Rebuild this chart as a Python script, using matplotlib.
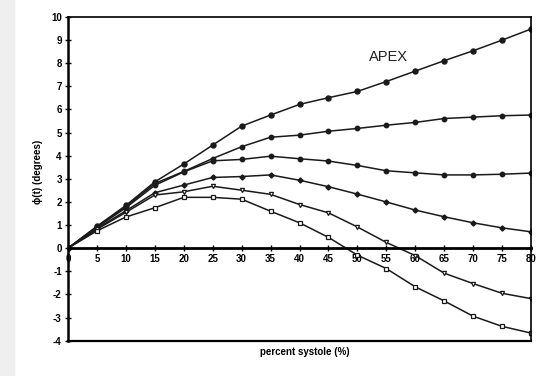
import matplotlib
matplotlib.use("Agg")
import matplotlib.pyplot as plt
from matplotlib.patches import Rectangle

plt.rcParams['font.family'] = ['Liberation Sans', 'DejaVu Sans']
plt.rcParams['axes.unicode_minus'] = False

# percent systole
pct = [0, 5, 10, 15, 20, 25, 30, 35, 40, 45, 50, 55, 60, 65, 70, 75, 80]

# phi(t) in degrees, top curve (apex) to bottom curve
s1 = [0, 0.95, 1.85, 2.87, 3.64, 4.46, 5.28, 5.76, 6.22, 6.51, 6.78, 7.21, 7.66, 8.11, 8.54, 9.0, 9.48]
s2 = [0, 0.93, 1.80, 2.80, 3.32, 3.88, 4.39, 4.80, 4.89, 5.06, 5.18, 5.32, 5.44, 5.61, 5.67, 5.73, 5.76]
s3 = [0, 0.90, 1.75, 2.72, 3.30, 3.78, 3.84, 3.98, 3.87, 3.77, 3.58, 3.35, 3.26, 3.17, 3.17, 3.20, 3.25]
s4 = [0, 0.85, 1.62, 2.40, 2.73, 3.06, 3.10, 3.17, 2.94, 2.66, 2.34, 2.00, 1.65, 1.36, 1.10, 0.88, 0.71]
s5 = [0, 0.82, 1.55, 2.30, 2.44, 2.68, 2.51, 2.33, 1.89, 1.53, 0.92, 0.25, -0.32, -1.08, -1.53, -1.95, -2.18]
s6 = [0, 0.75, 1.35, 1.75, 2.20, 2.20, 2.12, 1.60, 1.10, 0.47, -0.30, -0.88, -1.67, -2.28, -2.94, -3.38, -3.67]

xticks = list(range(0, 81, 5))
yticks = list(range(-4, 11))

fig = plt.figure(figsize=(5.48, 3.76), dpi=100)
fig.patches.append(Rectangle((0, 0), 14 / 548, 1, transform=fig.transFigure,
                             color='#efefef', zorder=0))
ax = fig.add_axes([68 / 548, 35.3 / 376, 463 / 548, 323.7 / 376])

lc = '#1a1a1a'
ax.plot(pct, s1, color=lc, lw=1.1, marker='o', ms=3.6, mfc=lc, mec=lc)
ax.plot(pct, s2, color=lc, lw=1.1, marker='o', ms=3.2, mfc=lc, mec=lc)
ax.plot(pct, s3, color=lc, lw=1.1, marker='o', ms=3.2, mfc=lc, mec=lc)
ax.plot(pct, s4, color=lc, lw=1.1, marker='D', ms=2.6, mfc=lc, mec=lc)
ax.plot(pct, s5, color=lc, lw=1.1, marker='v', ms=3.0, mfc='white', mec=lc, mew=0.9)
ax.plot(pct, s6, color=lc, lw=1.1, marker='s', ms=3.2, mfc='white', mec=lc, mew=0.9)

ax.set_xlim(0, 80)
ax.set_ylim(-4, 10)
ax.spines['bottom'].set_position(('data', 0))
ax.spines['bottom'].set_linewidth(2.0)
ax.spines['left'].set_linewidth(1.8)
ax.spines['top'].set_linewidth(1.2)
ax.spines['right'].set_linewidth(1.2)
ax.axhline(-4, color='k', lw=1.6, clip_on=False)

ax.set_xticks(xticks)
ax.set_yticks(yticks)
ax.tick_params(axis='both', direction='inout', length=5, width=1.0,
               labelsize=7, pad=2)
for lab in ax.get_xticklabels() + ax.get_yticklabels():
    lab.set_fontweight('bold')

ax.text(55.3, 8.27, 'APEX', fontsize=10.5, ha='center', va='center', color='#222222')

fig.text(305 / 548, 1 - 352 / 376, 'percent systole (%)', fontsize=7,
         fontweight='bold', ha='center', va='center')
fig.text(38 / 548, 1 - 172 / 376, 'ϕ(t) (degrees)', fontsize=7,
         fontweight='bold', ha='center', va='center', rotation=90)

fig.savefig('out.png', dpi=100)
